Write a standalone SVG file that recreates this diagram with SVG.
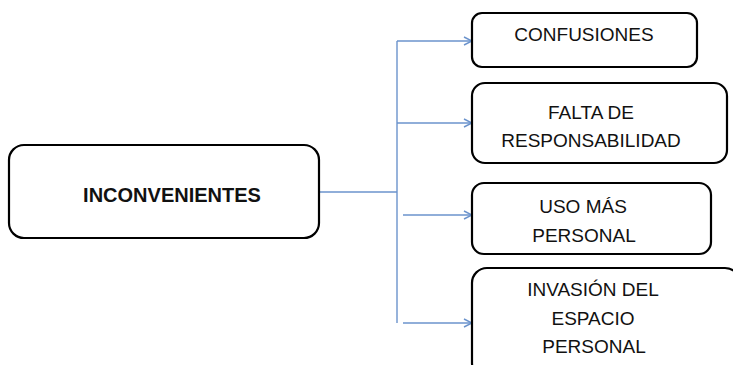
<svg xmlns="http://www.w3.org/2000/svg" width="733" height="365" viewBox="0 0 733 365">
<defs>
<style>
.box{fill:#fff;stroke:#000;stroke-width:2.2}
.t{font-family:"Liberation Sans",Arial,sans-serif;font-size:19px;fill:#111;text-anchor:middle}
.b{font-weight:bold;font-size:20px}
.c{fill:none;stroke:#6b93cc;stroke-width:1.4}
</style>
<marker id="ah" markerWidth="10" markerHeight="10" refX="9" refY="5" orient="auto" markerUnits="userSpaceOnUse">
<path d="M1,1 L9,5 L1,9" fill="none" stroke="#6b93cc" stroke-width="1.4"/>
</marker>
</defs>
<rect width="733" height="365" fill="#fff"/>
<g id="connectors">
<path class="c" d="M319,192 H397"/>
<path class="c" d="M397,41 V323"/>
<path class="c" d="M397,41 H472" marker-end="url(#ah)"/>
<path class="c" d="M397,123 H472" marker-end="url(#ah)"/>
<path class="c" d="M403,215 H472" marker-end="url(#ah)"/>
<path class="c" d="M403,323 H472" marker-end="url(#ah)"/>
</g>
<g id="n0">
<rect class="box" x="9" y="145" width="310" height="93" rx="15"/>
<text class="t b" x="172" y="202">INCONVENIENTES</text>
</g>
<g id="n1">
<rect class="box" x="472" y="13" width="225" height="54" rx="10"/>
<text class="t" x="584" y="41">CONFUSIONES</text>
</g>
<g id="n2">
<rect class="box" x="472" y="83" width="255" height="80" rx="13"/>
<text class="t" x="591" y="119">FALTA DE</text>
<text class="t" x="591" y="147">RESPONSABILIDAD</text>
</g>
<g id="n3">
<rect class="box" x="472" y="183" width="239" height="71" rx="12"/>
<text class="t" x="583" y="213">USO MÁS</text>
<text class="t" x="584" y="242">PERSONAL</text>
</g>
<g id="n4">
<rect class="box" x="472" y="268" width="268" height="110" rx="15"/>
<text class="t" x="593" y="296">INVASIÓN DEL</text>
<text class="t" x="593" y="325">ESPACIO</text>
<text class="t" x="594" y="353">PERSONAL</text>
</g>
</svg>
